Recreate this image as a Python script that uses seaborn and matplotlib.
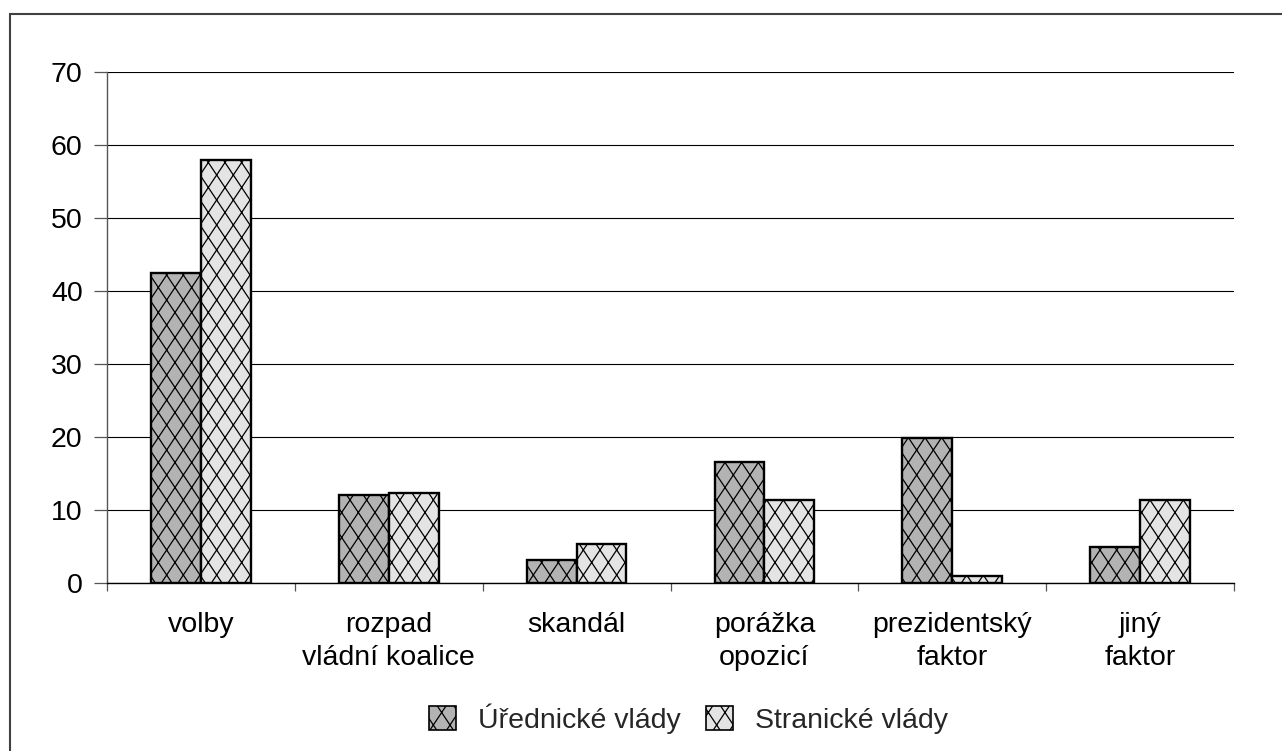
import numpy as np
import pandas as pd
import matplotlib
matplotlib.use("Agg")
import matplotlib.pyplot as plt
import matplotlib.hatch as mhatch
from matplotlib.path import Path
from matplotlib.patches import Patch, Rectangle
from matplotlib.ticker import FixedLocator
import seaborn as sns

# --- data -----------------------------------------------------------------
categories = ["volby", "rozpad\nvládní koalice", "skandál", "porážka\nopozicí",
              "prezidentský\nfaktor", "jiný\nfaktor"]
series_names = ["Úřednické vlády", "Stranické vlády"]
urednicke = [42.4, 12.0, 3.2, 16.6, 19.8, 5.0]
stranicke = [58.0, 12.3, 5.3, 11.4, 0.9, 11.4]
y_ticks = [0, 10, 20, 30, 40, 50, 60, 70]


# --- steep diamond cross-hatch used for the 'x' pattern --------------------
class SteepCrossHatch(mhatch.HatchPatternBase):
    """Two families of steep lines forming tall diamonds."""

    def __init__(self, hatch, density):
        self.n = int(hatch.count("x") * density)
        self.k = int(round(self.n * 2 / 3))  # horizontal offset over one cell height
        per_dir = self.n + self.k if self.n else 0
        self.num_lines = 2 * per_dir
        self.num_vertices = self.num_lines * 2

    def set_vertices_and_codes(self, vertices, codes):
        n, k = self.n, self.k
        idx = np.arange(-k, n)
        x0 = idx / n
        x1 = (idx + k) / n
        starts = np.column_stack([x0, np.zeros_like(x0)])
        ends = np.column_stack([x1, np.ones_like(x1)])
        starts_m = np.column_stack([1 - x0, np.zeros_like(x0)])
        ends_m = np.column_stack([1 - x1, np.ones_like(x1)])
        vertices[0::2] = np.vstack([starts, starts_m])
        vertices[1::2] = np.vstack([ends, ends_m])
        codes[0::2] = Path.MOVETO
        codes[1::2] = Path.LINETO


mhatch._hatch_types = [t for t in mhatch._hatch_types
                       if t not in (mhatch.NorthEastHatch, mhatch.SouthEastHatch)]
mhatch._hatch_types.append(SteepCrossHatch)

# --- style ----------------------------------------------------------------
sns.set_theme(style="white")
plt.rcParams["font.family"] = ["Liberation Sans", "DejaVu Sans"]
plt.rcParams["hatch.linewidth"] = 0.9
plt.rcParams["hatch.color"] = "black"

FS = 20.5

df = pd.DataFrame({
    "kategorie": categories * 2,
    "typ": [series_names[0]] * len(categories) + [series_names[1]] * len(categories),
    "hodnota": urednicke + stranicke,
})

fill_colors = {series_names[0]: "#b3b3b3", series_names[1]: "#e4e4e4"}

fig = plt.figure(figsize=(12.82, 7.51), dpi=100)
ax = fig.add_axes([107 / 1282, 1 - 583 / 751, (1234 - 107) / 1282, (583 - 72) / 751])

sns.barplot(data=df, x="kategorie", y="hodnota", hue="typ", order=categories,
            hue_order=series_names, palette=fill_colors, width=0.53, gap=0,
            edgecolor="black", linewidth=1.7, saturation=1, legend=False, ax=ax)

for container in ax.containers:
    for bar in container:
        bar.set_hatch("x")
        bar.set_zorder(3)

# axes, ticks, grid
ax.set_xlim(-0.5, len(categories) - 0.5)
ax.set_ylim(0, 70)
ax.set_yticks(y_ticks)
ax.yaxis.grid(True, color="black", linewidth=0.8)
ax.set_axisbelow(True)
ax.set_xlabel("")
ax.set_ylabel("")

for side in ("top", "right"):
    ax.spines[side].set_visible(False)
ax.spines["left"].set_color("#555555")
ax.spines["left"].set_linewidth(1.0)
ax.spines["bottom"].set_color("black")
ax.spines["bottom"].set_linewidth(1.0)

ax.tick_params(axis="y", which="major", direction="out", length=9.5, width=0.9,
               color="#555555", pad=8, labelsize=FS, left=True, labelcolor="black")
ax.tick_params(axis="x", which="major", length=0, pad=21, labelsize=FS,
               labelcolor="black")
ax.xaxis.set_minor_locator(FixedLocator(np.arange(-0.5, len(categories), 1.0)))
ax.tick_params(axis="x", which="minor", direction="out", length=6, width=0.9,
               color="#555555", bottom=True)
for lbl in ax.get_xticklabels():
    lbl.set_linespacing(1.32)

# legend
handles = [Patch(facecolor=fill_colors[s], edgecolor="black", linewidth=1.2,
                 hatch="x", label=s) for s in series_names]
fig.legend(handles=handles, loc="center", bbox_to_anchor=(0.537, 0.043), ncol=2,
           frameon=False, fontsize=FS, handlelength=0.95, handleheight=0.95,
           handletextpad=0.77, columnspacing=0.9)

# outer chart frame
fig.add_artist(Rectangle((10 / 1282, -0.05), 1.1, (751 - 14) / 751 + 0.05,
                         transform=fig.transFigure, fill=False,
                         edgecolor="#404040", linewidth=1.5))

fig.savefig("out.png", dpi=100, facecolor="white")
